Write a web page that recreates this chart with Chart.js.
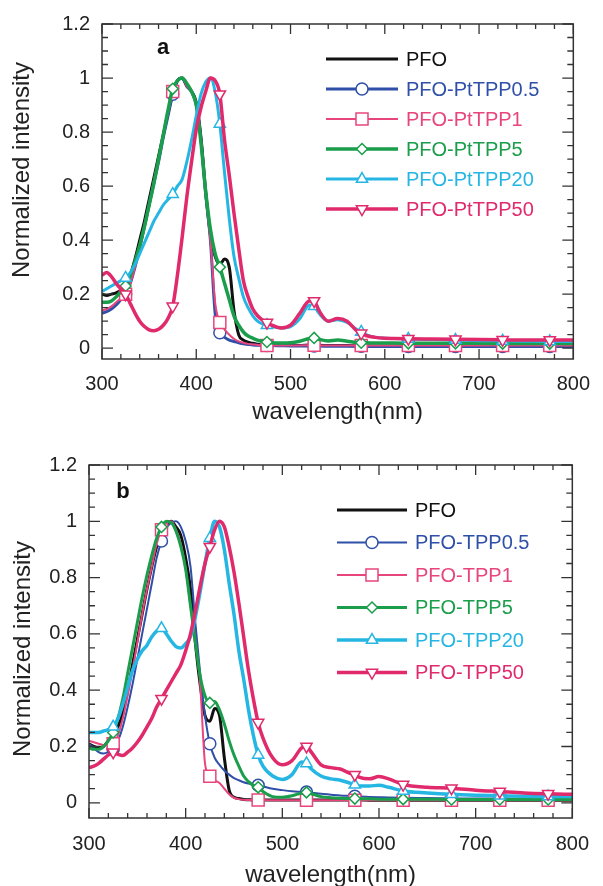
<!DOCTYPE html>
<html>
<head>
<meta charset="utf-8">
<script src="https://cdn.jsdelivr.net/npm/chart.js@4.4.1/dist/chart.umd.min.js"></script>
<style>
html, body { margin: 0; padding: 0; background: #fff; overflow: hidden; width: 603px; height: 886px; }
canvas { position: absolute; left: 0; }
#chartA { top: 0; }
#chartB { top: 440px; }
</style>
</head>
<body>
<canvas id="chartA" width="603" height="440"></canvas>
<canvas id="chartB" width="603" height="460"></canvas>
<script>
// shared wavelength grid (nm)
const wavelengths = [300,305,310,315,320,325,330,335,340,345,
  350,355,360,365,370,375,380,385,390,395,
  400,405,410,415,420,425,430,435,440,445,
  450,455,460,465,470,475,480,490,500,510,
  520,525,530,540,550,560,570,575,580,590,
  600,610,625,650,675,700,725,750,775,800];
const markerWl = [325,375,425,475,525,575,625,675,725,775];
const xTicks = [300,400,500,600,700,800];
const yTicks = [0,0.2,0.4,0.6,0.8,1,1.2];

// panel a
const labelsA = ["PFO","PFO-PtTPP0.5","PFO-PtTPP1","PFO-PtTPP5","PFO-PtTPP20","PFO-PtTPP50"];
const pfoA = [0.20,0.195,0.20,0.205,0.215,0.24,0.27,0.33,0.40,0.47,
  0.55,0.63,0.71,0.79,0.87,0.94,0.99,1.00,0.97,0.95,
  0.91,0.78,0.58,0.42,0.34,0.31,0.33,0.30,0.14,0.05,
  0.03,0.022,0.018,0.015,0.013,0.012,0.011,0.01,0.01,0.01,
  0.012,0.012,0.011,0.01,0.01,0.01,0.009,0.009,0.009,0.008,
  0.008,0.008,0.008,0.008,0.008,0.008,0.008,0.008,0.008,0.008];
const pt05A = [0.13,0.135,0.145,0.16,0.18,0.20,0.24,0.30,0.37,0.45,
  0.53,0.61,0.69,0.78,0.86,0.94,0.99,1.00,0.97,0.95,
  0.90,0.77,0.57,0.40,0.13,0.057,0.04,0.03,0.025,0.02,
  0.016,0.014,0.012,0.011,0.01,0.01,0.01,0.009,0.008,0.008,
  0.008,0.008,0.008,0.007,0.007,0.007,0.007,0.007,0.007,0.006,
  0.006,0.006,0.006,0.006,0.006,0.006,0.006,0.006,0.006,0.006];
const pt1A = [0.14,0.145,0.155,0.17,0.185,0.20,0.24,0.30,0.37,0.45,
  0.53,0.62,0.70,0.79,0.87,0.95,0.99,1.00,0.97,0.95,
  0.90,0.77,0.57,0.40,0.17,0.095,0.07,0.05,0.035,0.025,
  0.02,0.016,0.014,0.012,0.011,0.01,0.01,0.01,0.01,0.01,
  0.011,0.011,0.01,0.01,0.01,0.01,0.01,0.01,0.01,0.01,
  0.01,0.01,0.01,0.01,0.01,0.01,0.01,0.01,0.01,0.01];
const pt5A = [0.17,0.17,0.175,0.19,0.21,0.23,0.27,0.32,0.38,0.45,
  0.53,0.61,0.70,0.79,0.88,0.96,0.99,1.00,0.98,0.95,
  0.90,0.76,0.58,0.44,0.35,0.30,0.24,0.18,0.12,0.085,
  0.06,0.045,0.037,0.03,0.026,0.023,0.02,0.019,0.02,0.026,
  0.036,0.038,0.033,0.027,0.03,0.026,0.021,0.02,0.02,0.019,
  0.019,0.019,0.018,0.018,0.018,0.018,0.017,0.017,0.017,0.017];
const pt20A = [0.21,0.22,0.23,0.24,0.25,0.26,0.28,0.31,0.35,0.39,
  0.43,0.47,0.50,0.53,0.55,0.57,0.60,0.625,0.69,0.77,
  0.86,0.94,0.985,1.00,0.95,0.83,0.65,0.48,0.34,0.26,
  0.19,0.15,0.12,0.10,0.09,0.085,0.08,0.075,0.08,0.11,
  0.16,0.155,0.13,0.10,0.105,0.095,0.07,0.06,0.05,0.04,
  0.037,0.036,0.034,0.032,0.03,0.028,0.027,0.026,0.025,0.025];
const pt50A = [0.27,0.28,0.265,0.24,0.22,0.20,0.165,0.13,0.10,0.08,
  0.068,0.065,0.07,0.085,0.11,0.155,0.27,0.41,0.56,0.69,
  0.81,0.89,0.95,1.00,0.99,0.94,0.77,0.64,0.50,0.37,
  0.25,0.19,0.145,0.12,0.105,0.095,0.085,0.075,0.085,0.13,
  0.175,0.175,0.14,0.10,0.11,0.10,0.065,0.055,0.047,0.04,
  0.037,0.036,0.035,0.034,0.033,0.032,0.031,0.03,0.03,0.03];

// panel b
const labelsB = ["PFO","PFO-TPP0.5","PFO-TPP1","PFO-TPP5","PFO-TPP20","PFO-TPP50"];
const pfoB = [0.21,0.20,0.195,0.20,0.22,0.24,0.27,0.32,0.40,0.49,
  0.58,0.67,0.76,0.84,0.91,0.96,0.99,1.00,0.98,0.95,
  0.87,0.76,0.57,0.42,0.31,0.29,0.335,0.31,0.16,0.045,
  0.02,0.015,0.012,0.011,0.01,0.01,0.01,0.01,0.01,0.01,
  0.01,0.01,0.01,0.01,0.01,0.01,0.01,0.01,0.01,0.009,
  0.009,0.009,0.009,0.009,0.009,0.009,0.009,0.009,0.009,0.009];
const tpp05B = [0.21,0.195,0.18,0.175,0.18,0.19,0.22,0.27,0.34,0.42,
  0.51,0.60,0.69,0.78,0.87,0.93,0.975,0.995,1.00,0.98,
  0.93,0.84,0.64,0.46,0.31,0.21,0.16,0.135,0.115,0.10,
  0.088,0.08,0.073,0.068,0.064,0.062,0.058,0.05,0.045,0.041,
  0.039,0.038,0.036,0.032,0.029,0.026,0.024,0.023,0.022,0.021,
  0.02,0.019,0.018,0.017,0.016,0.015,0.015,0.014,0.014,0.014];
const tpp1B = [0.22,0.215,0.21,0.205,0.205,0.21,0.24,0.30,0.38,0.47,
  0.57,0.67,0.76,0.84,0.92,0.97,0.995,1.00,0.97,0.92,
  0.83,0.70,0.58,0.42,0.14,0.094,0.08,0.07,0.05,0.03,
  0.018,0.013,0.011,0.01,0.01,0.01,0.01,0.009,0.009,0.009,
  0.009,0.009,0.009,0.009,0.009,0.009,0.009,0.009,0.009,0.009,
  0.009,0.009,0.009,0.009,0.009,0.009,0.009,0.009,0.009,0.009];
const tpp5B = [0.195,0.19,0.19,0.20,0.22,0.25,0.30,0.37,0.46,0.55,
  0.64,0.73,0.81,0.88,0.94,0.98,1.00,0.995,0.965,0.91,
  0.83,0.70,0.57,0.45,0.38,0.355,0.36,0.33,0.28,0.22,
  0.17,0.13,0.095,0.075,0.062,0.055,0.04,0.022,0.02,0.025,
  0.035,0.037,0.032,0.022,0.018,0.016,0.015,0.015,0.014,0.014,
  0.013,0.013,0.013,0.013,0.012,0.012,0.012,0.012,0.012,0.012];
const tpp20B = [0.25,0.25,0.25,0.255,0.26,0.27,0.30,0.35,0.41,0.47,
  0.51,0.54,0.56,0.59,0.61,0.62,0.60,0.575,0.555,0.55,
  0.565,0.59,0.66,0.75,0.85,0.94,1.00,0.98,0.90,0.78,
  0.67,0.54,0.44,0.33,0.24,0.17,0.13,0.095,0.083,0.10,
  0.145,0.14,0.12,0.095,0.085,0.08,0.07,0.064,0.06,0.06,
  0.062,0.055,0.042,0.035,0.03,0.027,0.025,0.023,0.022,0.022];
const tpp50B = [0.125,0.13,0.14,0.155,0.17,0.18,0.172,0.168,0.18,0.195,
  0.215,0.24,0.27,0.30,0.34,0.37,0.40,0.43,0.46,0.49,
  0.54,0.60,0.68,0.77,0.85,0.91,0.97,1.00,0.98,0.91,
  0.82,0.71,0.59,0.47,0.37,0.285,0.23,0.16,0.135,0.15,
  0.195,0.20,0.18,0.135,0.125,0.12,0.105,0.10,0.09,0.085,
  0.093,0.085,0.065,0.055,0.052,0.045,0.04,0.035,0.032,0.03];

const FONT = "'Liberation Sans', Arial, Helvetica, sans-serif";
Chart.defaults.font.family = FONT;
Chart.defaults.color = '#222';

const stylesA = [
  {color: '#111111', width: 3},
  {color: '#2f4fa8', width: 3, marker: 'circle', r: 6},
  {color: '#e8457c', width: 2, marker: 'rect', r: 8.5},
  {color: '#1a9e4b', width: 3.5, marker: 'rectRot', r: 5.5},
  {color: '#26b6e3', width: 3, marker: 'triangle', r: 6.5},
  {color: '#e02a6c', width: 3.5, marker: 'triangle', r: 6.5, rot: 180}
];
const stylesB = [
  {color: '#111111', width: 3},
  {color: '#2f4fa8', width: 2, marker: 'circle', r: 6},
  {color: '#e8457c', width: 2, marker: 'rect', r: 8.5},
  {color: '#1a9e4b', width: 3, marker: 'rectRot', r: 5.5},
  {color: '#26b6e3', width: 3.5, marker: 'triangle', r: 6.5},
  {color: '#e02a6c', width: 3.5, marker: 'triangle', r: 6.5, rot: 180}
];

// same shapes as chart.js point styles, for the legend
function drawMarker(ctx, st, x, y) {
  if (!st.marker) return;
  const r = st.r;
  let rad = (st.rot || 0) * Math.PI / 180;
  ctx.beginPath();
  if (st.marker === 'circle') {
    ctx.arc(x, y, r, 0, Math.PI * 2);
  } else if (st.marker === 'rect') {
    const s = Math.SQRT1_2 * r;
    ctx.rect(x - s, y - s, 2 * s, 2 * s);
  } else if (st.marker === 'rectRot') {
    ctx.moveTo(x, y - r); ctx.lineTo(x + r, y); ctx.lineTo(x, y + r); ctx.lineTo(x - r, y);
    ctx.closePath();
  } else if (st.marker === 'triangle') {
    for (let k = 0; k < 3; k++) {
      const px = x + Math.sin(rad) * r, py = y - Math.cos(rad) * r;
      if (k === 0) ctx.moveTo(px, py); else ctx.lineTo(px, py);
      rad += Math.PI * 2 / 3;
    }
    ctx.closePath();
  }
  ctx.fillStyle = '#fff';
  ctx.fill();
  ctx.lineWidth = 1.5;
  ctx.strokeStyle = st.color;
  ctx.stroke();
}

const framePlugin = {
  id: 'frame',
  afterDatasetsDraw(chart, args, opts) {
    const {ctx, chartArea: a} = chart;
    const x = chart.scales.x, y = chart.scales.y;
    ctx.save();
    ctx.strokeStyle = '#333';
    ctx.lineWidth = 1.5;
    ctx.strokeRect(a.left, a.top, a.right - a.left, a.bottom - a.top);
    ctx.lineWidth = 1.3;
    ctx.beginPath();
    for (let v = 300; v <= 800; v += 20) {
      const px = x.getPixelForValue(v);
      const len = v % 100 === 0 ? 10 : 5;
      ctx.moveTo(px, a.bottom); ctx.lineTo(px, a.bottom - len);
      ctx.moveTo(px, a.top); ctx.lineTo(px, a.top + len);
    }
    for (let k = 0; k <= 24; k++) {
      const py = y.getPixelForValue(k * 0.05);
      const len = k % 4 === 0 ? 11 : 6;
      ctx.moveTo(a.left, py); ctx.lineTo(a.left + len, py);
      ctx.moveTo(a.right, py); ctx.lineTo(a.right - len, py);
    }
    ctx.stroke();

    // y axis title, placed like the original (not centred on the axis)
    ctx.save();
    ctx.translate(opts.yTitleX, opts.yTitleY);
    ctx.rotate(-Math.PI / 2);
    ctx.fillStyle = '#222';
    ctx.font = '24px ' + FONT;
    ctx.textAlign = 'center';
    ctx.textBaseline = 'middle';
    ctx.fillText('Normalized intensity', 0, 0);
    ctx.restore();

    // panel letter
    ctx.fillStyle = '#111';
    ctx.font = 'bold 22px ' + FONT;
    ctx.textAlign = 'center';
    ctx.textBaseline = 'middle';
    ctx.fillText(opts.letter, a.left + opts.letterX, a.top + opts.letterY);

    // legend
    ctx.font = '20px ' + FONT;
    ctx.textAlign = 'left';
    chart.data.datasets.forEach((ds, i) => {
      const st = opts.styles[i];
      const ly = a.top + opts.legY + i * opts.legGap;
      const x1 = a.left + opts.legX1, x2 = a.left + opts.legX2;
      ctx.strokeStyle = st.color;
      ctx.lineWidth = st.width;
      ctx.beginPath();
      ctx.moveTo(x1, ly); ctx.lineTo(x2, ly);
      ctx.stroke();
      drawMarker(ctx, st, (x1 + x2) / 2, ly);
      ctx.fillStyle = st.color;
      ctx.fillText(ds.label, a.left + opts.legTx, ly + 1);
    });
    ctx.restore();
  }
};

function makeChart(id, labels, series, styles, cfg) {
  const datasets = series.map((vals, i) => {
    const st = styles[i];
    return {
      label: labels[i],
      data: wavelengths.map((w, j) => ({x: w, y: vals[j]})),
      borderColor: st.color,
      borderWidth: st.width,
      backgroundColor: '#fff',
      pointBackgroundColor: '#fff',
      pointBorderColor: st.color,
      pointBorderWidth: 1.5,
      pointStyle: st.marker || 'circle',
      pointRotation: st.rot || 0,
      pointRadius: c => (st.marker && markerWl.includes(wavelengths[c.dataIndex])) ? st.r : 0,
      cubicInterpolationMode: 'monotone',
      fill: false,
      order: series.length - i
    };
  });
  return new Chart(document.getElementById(id), {
    type: 'line',
    data: {datasets},
    options: {
      responsive: false,
      animation: false,
      events: [],
      layout: {padding: {top: cfg.padTop, right: cfg.padRight, bottom: 0, left: 0}},
      plugins: {
        legend: {display: false},
        tooltip: {enabled: false},
        frame: Object.assign({styles}, cfg.frame)
      },
      scales: {
        x: {
          type: 'linear', min: 300, max: 800,
          afterBuildTicks: s => { s.ticks = xTicks.map(v => ({value: v})); },
          afterFit: s => { s.height = cfg.xHeight; },
          grid: {display: false, drawTicks: false},
          border: {display: false},
          ticks: {font: {size: 20}, color: '#222', padding: cfg.xTickPad, maxRotation: 0, autoSkip: false},
          title: {display: true, text: 'wavelength(nm)', font: {size: 24}, color: '#222',
                  padding: {top: 0, bottom: cfg.xTitlePad}}
        },
        y: {
          type: 'linear', min: cfg.yMin, max: 1.2,
          afterBuildTicks: s => { s.ticks = yTicks.map(v => ({value: v})); },
          afterFit: s => { s.width = cfg.yWidth; },
          grid: {display: false, drawTicks: false},
          border: {display: false},
          ticks: {font: {size: 20}, color: '#222', padding: 12, callback: v => String(v)}
        }
      }
    },
    plugins: [framePlugin]
  });
}

makeChart('chartA', labelsA, [pfoA, pt05A, pt1A, pt5A, pt20A, pt50A], stylesA, {
  padTop: 19, padRight: 18, xHeight: 81, yWidth: 102, yMin: -0.04,
  xTickPad: 13, xTitlePad: 13,
  frame: {letter: 'a', letterX: 61, letterY: 24, legX1: 224, legX2: 296, legTx: 304, legY: 35, legGap: 30,
          yTitleX: 22, yTitleY: 170}
});
makeChart('chartB', labelsB, [pfoB, tpp05B, tpp1B, tpp5B, tpp20B, tpp50B], stylesB, {
  padTop: 25, padRight: 20, xHeight: 82, yWidth: 89, yMin: -0.054,
  xTickPad: 14, xTitlePad: 10,
  frame: {letter: 'b', letterX: 34, letterY: 27, legX1: 248, legX2: 318, legTx: 326, legY: 45, legGap: 32.5,
          yTitleX: 23, yTitleY: 209}
});
</script>
</body>
</html>
